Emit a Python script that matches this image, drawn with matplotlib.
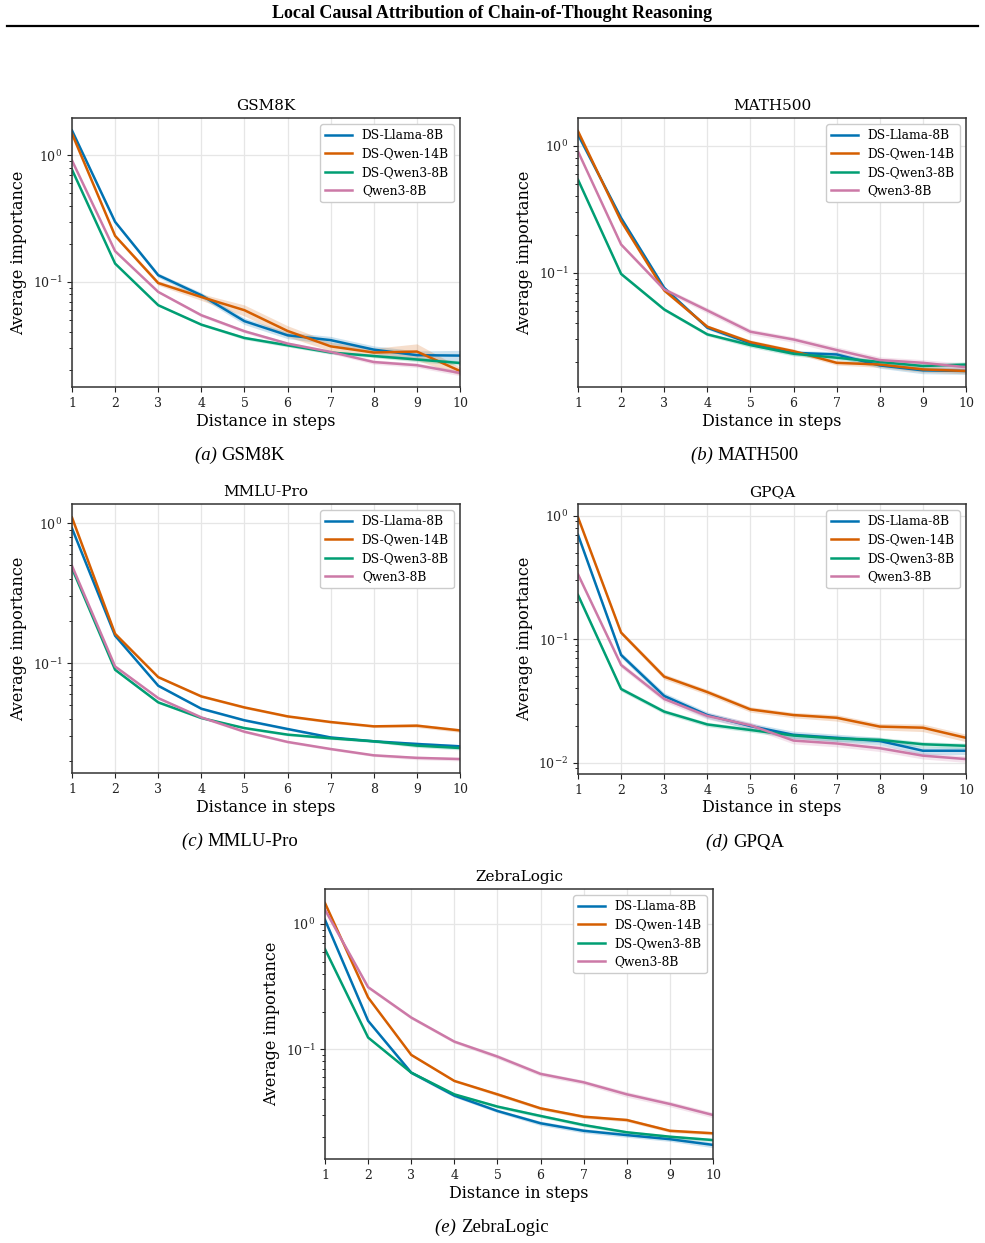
import matplotlib
matplotlib.use("Agg")
import matplotlib.pyplot as plt
import numpy as np

plt.rcParams["font.family"] = ["DejaVu Serif"]
plt.rcParams["mathtext.fontset"] = "dejavuserif"

steps = np.arange(1, 11)
models = ["DS-Llama-8B", "DS-Qwen-14B", "DS-Qwen3-8B", "Qwen3-8B"]
colors = ["#0072B2", "#D55E00", "#009E73", "#CC79A7"]

# mean importance per distance, one list per model
gsm8k = [
    [1.57, 0.298, 0.113, 0.0785, 0.049, 0.0379, 0.0347, 0.0292, 0.0264, 0.0262],
    [1.48, 0.231, 0.098, 0.076, 0.0598, 0.041, 0.031, 0.0277, 0.0282, 0.0198],
    [0.77, 0.1396, 0.0655, 0.046, 0.0361, 0.0316, 0.0277, 0.026, 0.0244, 0.0229],
    [0.91, 0.175, 0.0834, 0.0546, 0.0408, 0.0326, 0.028, 0.0233, 0.022, 0.0191],
]
math500 = [
    [1.22, 0.27, 0.0762, 0.037, 0.0279, 0.0235, 0.0228, 0.0187, 0.0171, 0.0169],
    [1.30, 0.255, 0.0727, 0.0377, 0.0285, 0.0242, 0.0196, 0.019, 0.0174, 0.0169],
    [0.54, 0.098, 0.0515, 0.0328, 0.027, 0.0231, 0.0215, 0.0199, 0.0185, 0.019],
    [0.90, 0.167, 0.074, 0.0506, 0.0344, 0.0299, 0.0247, 0.0206, 0.0196, 0.0181],
]
mmlu_pro = [
    [0.92, 0.157, 0.0689, 0.0472, 0.039, 0.0338, 0.0294, 0.0276, 0.0264, 0.0254],
    [1.10, 0.162, 0.0794, 0.0578, 0.0482, 0.0416, 0.0379, 0.0353, 0.0357, 0.033],
    [0.477, 0.0896, 0.0524, 0.0405, 0.0343, 0.0308, 0.029, 0.0276, 0.0257, 0.0247],
    [0.496, 0.0946, 0.0562, 0.0409, 0.0323, 0.0273, 0.0243, 0.0219, 0.021, 0.0206],
]
gpqa = [
    [0.70, 0.0745, 0.0347, 0.0243, 0.0198, 0.0168, 0.0159, 0.015, 0.0125, 0.0125],
    [0.97, 0.113, 0.0497, 0.0373, 0.027, 0.0243, 0.0231, 0.0196, 0.0192, 0.0159],
    [0.228, 0.0395, 0.0259, 0.0204, 0.0184, 0.0166, 0.0157, 0.0153, 0.0141, 0.0137],
    [0.335, 0.0618, 0.0328, 0.0239, 0.0201, 0.0151, 0.0143, 0.0131, 0.0114, 0.0107],
]
zebralogic = [
    [1.08, 0.1685, 0.065, 0.0426, 0.0321, 0.0256, 0.0223, 0.0206, 0.0191, 0.0172],
    [1.47, 0.259, 0.0901, 0.0558, 0.0436, 0.0337, 0.0289, 0.0272, 0.0223, 0.0213],
    [0.63, 0.124, 0.065, 0.0436, 0.0348, 0.0293, 0.0248, 0.0217, 0.02, 0.0188],
    [1.30, 0.313, 0.179, 0.115, 0.0873, 0.0635, 0.0544, 0.0436, 0.0365, 0.0298],
]

# relative half-width of the shaded interval, per model
gsm8k_err = [
    [0.02, 0.03, 0.04, 0.05, 0.06, 0.06, 0.07, 0.07, 0.08, 0.10],
    [0.02, 0.03, 0.04, 0.06, 0.10, 0.10, 0.08, 0.08, 0.15, 0.07],
    [0.01, 0.02, 0.02, 0.02, 0.03, 0.03, 0.03, 0.03, 0.04, 0.04],
    [0.01, 0.02, 0.02, 0.03, 0.03, 0.03, 0.03, 0.04, 0.04, 0.05],
]
math500_err = [
    [0.02, 0.03, 0.03, 0.03, 0.04, 0.04, 0.05, 0.05, 0.06, 0.06],
    [0.02, 0.03, 0.03, 0.03, 0.04, 0.04, 0.04, 0.05, 0.05, 0.05],
    [0.02, 0.03, 0.03, 0.03, 0.04, 0.04, 0.04, 0.05, 0.05, 0.05],
    [0.02, 0.03, 0.04, 0.05, 0.05, 0.05, 0.06, 0.06, 0.06, 0.07],
]
mmlu_pro_err = [
    [0.01, 0.02, 0.02, 0.02, 0.02, 0.02, 0.02, 0.02, 0.03, 0.03],
    [0.01, 0.02, 0.02, 0.02, 0.02, 0.02, 0.02, 0.02, 0.03, 0.03],
    [0.01, 0.02, 0.02, 0.02, 0.02, 0.02, 0.02, 0.02, 0.03, 0.03],
    [0.01, 0.02, 0.02, 0.02, 0.02, 0.02, 0.02, 0.02, 0.03, 0.03],
]
gpqa_err = [
    [0.03, 0.05, 0.06, 0.06, 0.06, 0.07, 0.07, 0.07, 0.07, 0.07],
    [0.02, 0.04, 0.05, 0.05, 0.05, 0.05, 0.06, 0.06, 0.07, 0.07],
    [0.03, 0.04, 0.04, 0.04, 0.04, 0.05, 0.05, 0.05, 0.05, 0.05],
    [0.03, 0.05, 0.05, 0.06, 0.06, 0.06, 0.06, 0.06, 0.06, 0.06],
]
zebralogic_err = [
    [0.02, 0.03, 0.03, 0.03, 0.03, 0.04, 0.04, 0.04, 0.04, 0.05],
    [0.02, 0.02, 0.02, 0.02, 0.03, 0.03, 0.03, 0.03, 0.03, 0.03],
    [0.02, 0.02, 0.02, 0.02, 0.03, 0.03, 0.03, 0.03, 0.03, 0.03],
    [0.02, 0.03, 0.03, 0.03, 0.04, 0.04, 0.04, 0.05, 0.05, 0.05],
]

panels = [
    ("GSM8K", "(a)", gsm8k, gsm8k_err, (0.0148, 1.97)),
    ("MATH500", "(b)", math500, math500_err, (0.01265, 1.65)),
    ("MMLU-Pro", "(c)", mmlu_pro, mmlu_pro_err, (0.01637, 1.374)),
    ("GPQA", "(d)", gpqa, gpqa_err, (0.0081, 1.243)),
    ("ZebraLogic", "(e)", zebralogic, zebralogic_err, (0.01327, 1.905)),
]

W, H = 985, 1243
# axes boxes in pixels: left, top, right, bottom
boxes = [
    (72, 118, 460, 387),
    (578, 118, 966, 387),
    (72, 504, 460, 773),
    (578, 504, 966, 774),
    (325, 889, 713, 1159),
]
# horizontal centre of each sub-caption, pixels
caption_x = [240, 745, 240, 745, 492]

fig = plt.figure(figsize=(W / 100, H / 100), dpi=100)
renderer = fig.canvas.get_renderer()

fig.text(0.5, 1 - 13 / H, "Local Causal Attribution of Chain-of-Thought Reasoning",
         ha="center", va="center", fontsize=13, fontweight="bold",
         family="Liberation Serif")
fig.add_artist(plt.Line2D([7 / W, 978 / W], [1 - 26 / H, 1 - 26 / H],
                          color="black", lw=1.6))

for (name, tag, data, err, ylim), (l, t, r, b), cxp in zip(panels, boxes, caption_x):
    ax = fig.add_axes([l / W, 1 - b / H, (r - l) / W, (b - t) / H])
    for vals, e, model, c in zip(data, err, models, colors):
        v = np.array(vals)
        e = np.array(e)
        ax.fill_between(steps, v * (1 - e), v * (1 + e), color=c, alpha=0.2, lw=0)
        ax.plot(steps, v, color=c, lw=1.8, label=model)
    ax.set_yscale("log")
    ax.set_xlim(1, 10)
    ax.set_ylim(*ylim)
    ax.set_xticks(steps)
    ax.grid(True, which="major", color="#e6e6e6", lw=0.9)
    ax.set_axisbelow(True)
    for s in ax.spines.values():
        s.set_color("#333333")
        s.set_linewidth(1.1)
    ax.tick_params(labelsize=9, colors="#222222")
    ax.set_title(name, fontsize=11, pad=6)
    ax.set_xlabel("Distance in steps", fontsize=11.5, labelpad=2)
    ax.set_ylabel("Average importance", fontsize=11.5, labelpad=4)
    ax.legend(loc="upper right", fontsize=8.8, frameon=True, fancybox=True,
              edgecolor="#cccccc", framealpha=1, handlelength=2.2,
              labelspacing=0.45, borderaxespad=0.5)

    # sub-caption: italic tag followed by the dataset name, centred as one
    cy = 1 - (b + 68) / H
    t1 = fig.text(0, cy, tag + " ", ha="left", va="center", fontsize=13.5,
                  style="italic", family="Liberation Serif")
    t2 = fig.text(0, cy, name, ha="left", va="center", fontsize=13.5,
                  family="Liberation Serif")
    w1 = t1.get_window_extent(renderer).width
    w2 = t2.get_window_extent(renderer).width
    x0 = cxp - (w1 + w2) / 2
    t1.set_x(x0 / W)
    t2.set_x((x0 + w1) / W)

fig.savefig("out.png", dpi=100)
